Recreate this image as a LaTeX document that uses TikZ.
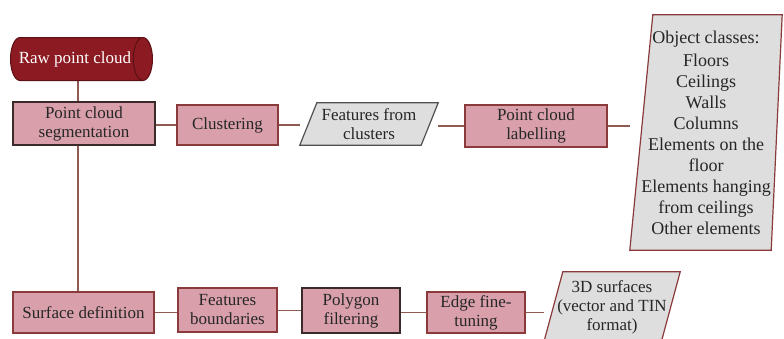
\documentclass[tikz,border=0pt]{standalone}
\usepackage{fontspec}
\setmainfont{Liberation Serif}
\usetikzlibrary{shapes.geometric,backgrounds}
\definecolor{pinkfill}{HTML}{D9A0AB}
\definecolor{boxedge}{HTML}{8A3A3A}
\definecolor{darkedge}{HTML}{3A2A2A}
\definecolor{linec}{HTML}{8E5A52}
\definecolor{greyfill}{HTML}{DEDEDE}
\definecolor{grayedge}{HTML}{505050}
\definecolor{rawfill}{HTML}{8C1A22}
\definecolor{rawedge}{HTML}{5A1015}
\begin{document}
\begin{tikzpicture}[x=1pt,y=-1pt,
 every node/.style={font=\fontsize{17}{19}\selectfont, align=center, inner sep=1pt, text=black!85},
 proc/.style={rectangle, draw=boxedge, line width=1.3pt, fill=pinkfill},
 procdark/.style={proc, draw=darkedge},
 iobox/.style={rectangle, inner sep=0pt},
 iofill/.style={fill=greyfill, draw=#1, line width=1.2pt},
 link/.style={draw=linec, line width=1.5pt}]
\useasboundingbox (0,0) rectangle (784,338);
\clip (0,0) rectangle (784,338);

\node[cylinder, shape border rotate=0, aspect=1.1, minimum width=43pt, minimum height=142pt,
      fill=rawfill, draw=rawedge, line width=1pt, text=white] (raw) at (75,59) {Raw point cloud};
\node[procdark, minimum width=142pt, minimum height=43pt] (seg) at (84,123.5) {Point cloud\\segmentation};
\node[proc, minimum width=101pt, minimum height=40pt] (clus) at (227.5,125) {Clustering};
\node[iobox, minimum width=138pt, minimum height=42pt] (feat) at (369,124) {Features from\\clusters};
\node[proc, minimum width=142pt, minimum height=42pt] (lab) at (536,126) {Point cloud\\labelling};
\node[iobox, minimum width=152pt, minimum height=235pt, font=\fontsize{18}{21}\selectfont] (obj) at (706,132.5)
 {Object classes:\\[2pt]Floors\\Ceilings\\Walls\\Columns\\Elements on the\\floor\\Elements hanging\\from ceilings\\Other elements};
\node[proc, minimum width=141pt, minimum height=41pt] (surf) at (83.5,312.5) {Surface definition};
\node[proc, minimum width=99pt, minimum height=44pt] (fb) at (227.5,310) {Features\\boundaries};
\node[procdark, minimum width=98pt, minimum height=45pt] (poly) at (351,310.5) {Polygon\\filtering};
\node[proc, minimum width=98pt, minimum height=41pt] (edge) at (476,312.5) {Edge fine-\\tuning};
\node[iobox, minimum width=136pt, minimum height=70pt] (s3d) at (612,307) {3D surfaces\\(vector and TIN\\format)};

\begin{pgfonlayer}{background}
\draw[link] (raw.south -| 78,0) -- (seg.north -| 78,0);
\draw[link] (seg.south -| 78,0) -- (surf.north -| 78,0);
\draw[link] (seg.east |- clus.west) -- (clus.west);
\draw[link] (clus.east) -- (clus.east -| feat.west);
\draw[link] (feat.east |- lab.west) -- (lab.west);
\draw[link] (lab.east) -- (lab.east -| obj.west);
\draw[link] (surf.east) -- (surf.east -| fb.west);
\draw[link] (fb.east |- poly.west) -- (poly.west);
\draw[link] (poly.east |- edge.west) -- (edge.west);
\draw[link] (edge.east) -- (edge.east -| s3d.west);
\draw[iofill=grayedge] (feat.south west) -- ([xshift=-17pt]feat.south east) -- (feat.north east) -- ([xshift=17pt]feat.north west) -- cycle;
\draw[iofill=boxedge] (obj.south west) -- ([xshift=-11pt]obj.south east) -- (obj.north east) -- ([xshift=23pt]obj.north west) -- cycle;
\draw[iofill=boxedge] (s3d.south west) -- ([xshift=-19pt]s3d.south east) -- (s3d.north east) -- ([xshift=19pt]s3d.north west) -- cycle;
\end{pgfonlayer}
\end{tikzpicture}
\end{document}
